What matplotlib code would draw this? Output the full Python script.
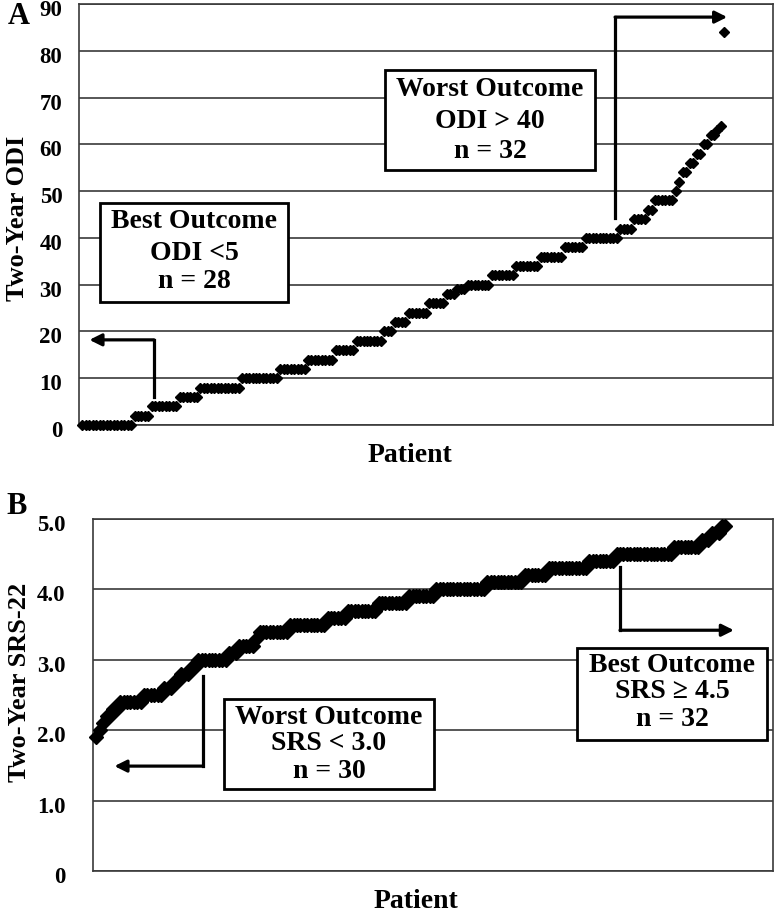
import numpy as np
import matplotlib
matplotlib.use('Agg')
from matplotlib import pyplot as plt
from matplotlib.patches import Rectangle
from matplotlib.transforms import ScaledTranslation

plt.rcParams['font.family'] = 'Liberation Serif'
plt.rcParams['font.weight'] = 'bold'

# Panel A: sorted two-year ODI scores (value, number of patients at that value)
odi_values = [0, 2, 4, 6, 8, 10, 12, 14, 16, 18, 20, 22, 24, 26, 28, 29, 30, 32, 34,
              36, 38, 40, 42, 44, 46, 48, 50, 52, 54, 56, 58, 60, 62, 63, 64, 84]
odi_counts = [15, 5, 8, 6, 12, 11, 8, 8, 6, 8, 3, 4, 6, 5, 3, 3, 7, 7, 7,
              7, 6, 10, 4, 4, 2, 6, 1, 1, 2, 2, 2, 2, 2, 1, 1, 1]

# Panel B: sorted two-year SRS-22 scores
srs_values = [1.9, 2.0, 2.1, 2.2, 2.3, 2.4, 2.5, 2.6, 2.7, 2.8, 2.9, 3.0, 3.1, 3.2, 3.3, 3.4,
              3.5, 3.6, 3.7, 3.8, 3.9, 4.0, 4.1, 4.2, 4.3, 4.4, 4.5, 4.6, 4.7, 4.8, 4.9]
srs_counts = [1, 1, 1, 2, 2, 7, 6, 3, 2, 3, 2, 9, 3, 5, 1, 9,
              11, 6, 9, 9, 8, 15, 11, 7, 12, 8, 17, 8, 3, 3, 2]

odi_ticks = [0, 10, 20, 30, 40, 50, 60, 70, 80, 90]
srs_ticks = [0, 1, 2, 3, 4, 5]
srs_ticklabels = ['0', '1.0', '2.0', '3.0', '4.0', '5.0']

odi = np.repeat(odi_values, odi_counts)
srs = np.repeat(srs_values, srs_counts)
pat_a = np.arange(1, len(odi) + 1)
pat_b = np.arange(1, len(srs) + 1)

W, H = 775, 915
def fx(px):
    return px / W
def fy(py):
    return 1 - py / H

fig = plt.figure(figsize=(W / 100, H / 100), dpi=100)
axA = fig.add_axes([fx(79), fy(425), fx(773) - fx(79), fy(4) - fy(425)])
axB = fig.add_axes([fx(93), fy(871), fx(773) - fx(93), fy(519) - fy(871)])

gcol = '#3a3a3a'
for ax in (axA, axB):
    ax.set_xlim(0, 200)
    ax.set_xticks([])
    ax.yaxis.grid(True, color=gcol, lw=1.2)
    ax.set_axisbelow(True)
    ax.tick_params(axis='y', length=0, labelsize=16.5)
    for s in ax.spines.values():
        s.set_color(gcol)
        s.set_linewidth(1.2)

axA.set_ylim(0, 90)
axA.set_yticks(odi_ticks)
axA.tick_params(axis='y', pad=12)
axA.plot(pat_a, odi, 'D', color='k', ms=5.4, clip_on=False, zorder=3)

axB.set_ylim(0, 5)
axB.set_yticks(srs_ticks)
axB.set_yticklabels(srs_ticklabels)
axB.tick_params(axis='y', pad=20)
axB.plot(pat_b, srs, 'D', color='k', ms=6.8, clip_on=False, zorder=3)

# tick labels sit a few pixels below their gridlines in the original
shift = ScaledTranslation(0, -4 / 100, fig.dpi_scale_trans)
for ax in (axA, axB):
    for lab in ax.get_yticklabels():
        lab.set_transform(lab.get_transform() + shift)

# axis titles and panel letters
fig.text(fx(18), fy(218), 'Two-Year ODI', rotation=90, ha='center', va='center', fontsize=19)
fig.text(fx(20), fy(682), 'Two-Year SRS-22', rotation=90, ha='center', va='center', fontsize=19)
fig.text(fx(410), fy(456), 'Patient', ha='center', va='center', fontsize=20)
fig.text(fx(416), fy(901), 'Patient', ha='center', va='center', fontsize=20)
fig.text(fx(19), fy(16), 'A', ha='center', va='center', fontsize=22)
fig.text(fx(17), fy(507), 'B', ha='center', va='center', fontsize=22)

# elbow arrows
def elbow(ax, x, y0, y1, xtip):
    ax.plot([x, x], [y0, y1], color='k', lw=2.3, solid_capstyle='projecting', zorder=4)
    ax.annotate('', xy=(xtip, y1), xytext=(x, y1),
                arrowprops=dict(arrowstyle='-|>', color='k', lw=2.3,
                                mutation_scale=18, shrinkA=0, shrinkB=0), zorder=4)

elbow(axA, 21.6, 6.0, 18.2, 3.0)
elbow(axA, 154.5, 44.3, 87.2, 186.8)
elbow(axB, 32.4, 2.77, 1.49, 6.3)
elbow(axB, 155.0, 4.32, 3.42, 188.5)

# text boxes
def box(x0, y0, x1, y1, lines, ys):
    fig.add_artist(Rectangle((fx(x0), fy(y1)), fx(x1) - fx(x0), fy(y0) - fy(y1),
                             transform=fig.transFigure, facecolor='white',
                             edgecolor='k', lw=2.0, zorder=5))
    cx = (x0 + x1) / 2
    for t, y in zip(lines, ys):
        fig.text(fx(cx), fy(y), t, ha='center', va='center', fontsize=20, zorder=6)

box(100, 203, 288, 302, ['Best Outcome', 'ODI <5', 'n = 28'], [222, 253, 282])
box(385, 70, 595, 170, ['Worst Outcome', 'ODI > 40', 'n = 32'], [90, 121, 151])
box(224, 699, 434, 789, ['Worst Outcome', 'SRS < 3.0', 'n = 30'], [717, 744, 771])
box(577, 648, 767, 740, ['Best Outcome', 'SRS \u2265 4.5', 'n = 32'], [665, 692, 719])

fig.savefig('out.png', dpi=100)
